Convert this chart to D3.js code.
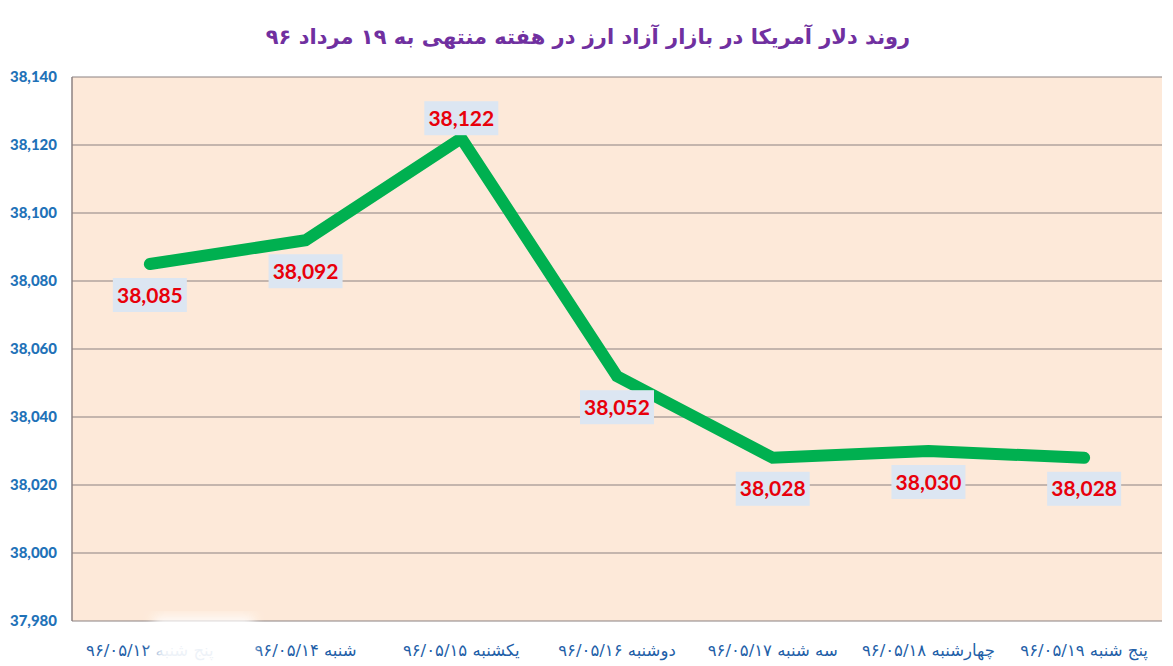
<!DOCTYPE html>
<html>
<head>
<meta charset="utf-8">
<script src="https://cdn.jsdelivr.net/npm/d3@7/dist/d3.min.js"></script>
<style>
  body { margin: 0; background: #fff; }
  svg { display: block; }
</style>
</head>
<body>
<svg id="chart" width="1173" height="666"></svg>
<script>
// data
var title = "روند دلار آمریکا در بازار آزاد ارز در هفته منتهی به ۱۹ مرداد ۹۶";
var days = [
    "پنج شنبه ۹۶/۰۵/۱۲",
    "شنبه ۹۶/۰۵/۱۴",
    "یکشنبه ۹۶/۰۵/۱۵",
    "دوشنبه ۹۶/۰۵/۱۶",
    "سه شنبه ۹۶/۰۵/۱۷",
    "چهارشنبه ۹۶/۰۵/۱۸",
    "پنج شنبه ۹۶/۰۵/۱۹"
];
var prices = [38085, 38092, 38122, 38052, 38028, 38030, 38028];
var labelSide = ["below", "below", "above", "below", "below", "below", "below"];
var yTicks = [37980, 38000, 38020, 38040, 38060, 38080, 38100, 38120, 38140];

var margin = {top: 77, right: 11, bottom: 45, left: 72};
var width = 1173, height = 666;

var svg = d3.select('#chart');

var x = d3.scaleBand()
    .domain(days)
    .range([margin.left, width - margin.right]);

var y = d3.scaleLinear()
    .domain([37980, 38140])
    .range([height - margin.bottom, margin.top]);

var fmt = d3.format(",");

var defs = svg.append('defs');
defs.append('filter').attr('id', 'smudge')
    .append('feGaussianBlur').attr('stdDeviation', 6);

// plot background
svg.append('rect')
    .attr('x', margin.left).attr('y', margin.top)
    .attr('width', width - margin.left - margin.right)
    .attr('height', height - margin.top - margin.bottom)
    .attr('fill', '#fde9d9');

// gridlines
svg.append('g')
    .selectAll('line')
    .data(yTicks)
    .enter().append('line')
    .attr('x1', margin.left).attr('x2', width - margin.right)
    .attr('y1', function(d){ return y(d); })
    .attr('y2', function(d){ return y(d); })
    .attr('stroke', '#8c8282').attr('stroke-width', 1.2);

// left axis line
svg.append('line')
    .attr('x1', margin.left).attr('x2', margin.left)
    .attr('y1', margin.top).attr('y2', height - margin.bottom)
    .attr('stroke', '#8c8282').attr('stroke-width', 1.5);

// y tick labels
var yAxis = svg.append('g')
    .attr('transform', 'translate(' + (margin.left - 15) + ',0)')
    .call(d3.axisLeft(y).tickValues(yTicks).tickFormat(fmt).tickSize(0).tickPadding(0));
yAxis.select('.domain').remove();
yAxis.selectAll('text')
    .attr('fill', '#1f72b8')
    .style('font-family', 'Lato, "Open Sans", sans-serif')
    .style('font-weight', '900')
    .style('font-size', '15px');

// x labels
var xAxis = svg.append('g')
    .attr('transform', 'translate(0,' + (height - margin.bottom + 23) + ')')
    .call(d3.axisBottom(x).tickSize(0).tickPadding(0));
xAxis.select('.domain').remove();
xAxis.selectAll('text')
    .attr('fill', '#1f5fa8')
    .attr('direction', 'rtl')
    .style('font-family', '"DejaVu Sans", sans-serif')
    .style('font-size', '16.5px');

// smudge over the first label, as in the picture
svg.append('rect')
    .attr('x', x(days[0]) + x.bandwidth() / 2 + 4).attr('y', height - margin.bottom - 4)
    .attr('width', 100).attr('height', 60)
    .attr('fill', '#fff').attr('opacity', 0.92)
    .attr('filter', 'url(#smudge)');

// the line
var line = d3.line()
    .x(function(d, i){ return x(days[i]) + x.bandwidth() / 2; })
    .y(function(d){ return y(d); });

svg.append('path')
    .datum(prices)
    .attr('d', line)
    .attr('fill', 'none')
    .attr('stroke', '#00b050')
    .attr('stroke-width', 12)
    .attr('stroke-linecap', 'round')
    .attr('stroke-linejoin', 'miter');

// data labels
var labels = svg.append('g')
    .selectAll('g')
    .data(prices)
    .enter().append('g')
    .attr('transform', function(d, i){
        var cx = x(days[i]) + x.bandwidth() / 2;
        var cy = y(d) + (labelSide[i] === 'above' ? -20 : 31);
        return 'translate(' + cx + ',' + cy + ')';
    });

labels.append('rect')
    .attr('x', -37).attr('y', -17)
    .attr('width', 74).attr('height', 34)
    .attr('fill', '#dce6f2');

labels.append('text')
    .attr('text-anchor', 'middle')
    .attr('dy', '0.36em')
    .attr('fill', '#e8000b')
    .style('font-family', 'Lato, "Open Sans", sans-serif')
    .style('font-weight', 'bold')
    .style('font-size', '21px')
    .text(function(d){ return fmt(d); });

// title
svg.append('text')
    .attr('x', 588).attr('y', 44)
    .attr('text-anchor', 'middle')
    .attr('direction', 'rtl')
    .attr('fill', '#7030a0')
    .style('font-family', '"DejaVu Sans", sans-serif')
    .style('font-weight', 'bold')
    .style('font-size', '21px')
    .text(title);
</script>
</body>
</html>
